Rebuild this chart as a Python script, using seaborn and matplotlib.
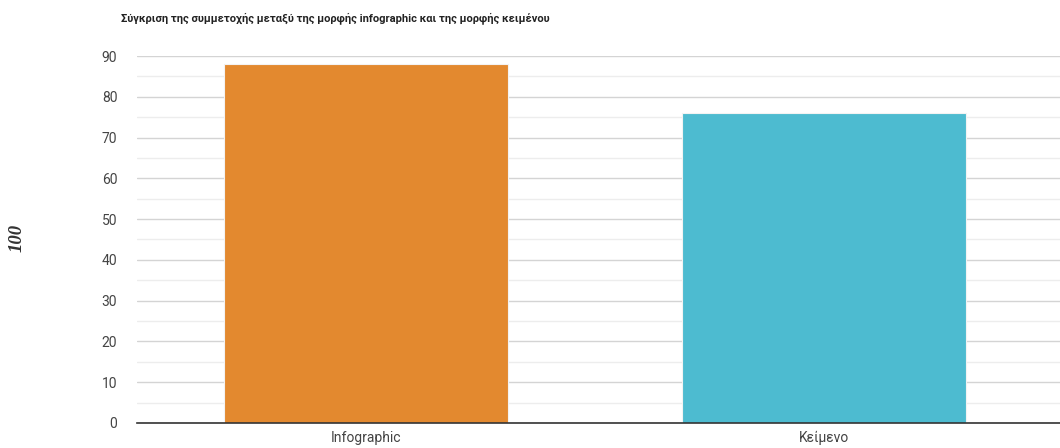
import pandas as pd
import seaborn as sns
import matplotlib.pyplot as plt
from matplotlib.ticker import MultipleLocator

# data
categories = ['Infographic', 'Κείμενο']
values = [88, 76]
colors = ['#E3892F', '#4DBBD0']
title = 'Σύγκριση της συμμετοχής μεταξύ της μορφής infographic και της μορφής κειμένου'

df = pd.DataFrame({'cat': categories, 'val': values})

sns.set_style('white')
plt.rcParams['font.family'] = ['Roboto', 'Liberation Sans', 'DejaVu Sans']

fig = plt.figure(figsize=(10.6, 4.48), dpi=100)
ax = fig.add_axes([0.129, 0.056, 0.871, 0.819])

sns.barplot(data=df, x='cat', y='val', hue='cat', palette=colors, legend=False,
            saturation=1, width=0.62, edgecolor='#f3f3f3', linewidth=0.8,
            ax=ax, zorder=3)

ax.set_ylim(0, 90)
ax.set_xlim(-0.5, 1.515)
ax.yaxis.set_major_locator(MultipleLocator(10))
ax.yaxis.set_minor_locator(MultipleLocator(5))
ax.grid(axis='y', which='major', color='#d4d4d4', linewidth=1, zorder=0)
ax.grid(axis='y', which='minor', color='#ededed', linewidth=1, zorder=0)
ax.set_axisbelow(True)

for s in ['top', 'right', 'left']:
    ax.spines[s].set_visible(False)
ax.spines['bottom'].set_color('#333333')
ax.spines['bottom'].set_linewidth(1.2)
ax.spines['bottom'].set_zorder(5)

ax.tick_params(axis='both', which='both', length=0, labelsize=10, colors='#444444')
ax.tick_params(axis='y', pad=14)
ax.tick_params(axis='x', pad=6)
ax.set_xlabel('')
ax.set_ylabel('')

fig.text(0.114, 0.96, title, fontsize=8, fontweight='bold', color='#222222',
         ha='left', va='center')
fig.text(0.016, 0.47, '100', rotation=90, fontsize=13.5, fontweight='bold', style='italic',
         family='Liberation Serif', color='#333333', ha='center', va='center')

plt.savefig('out.png', dpi=100)
